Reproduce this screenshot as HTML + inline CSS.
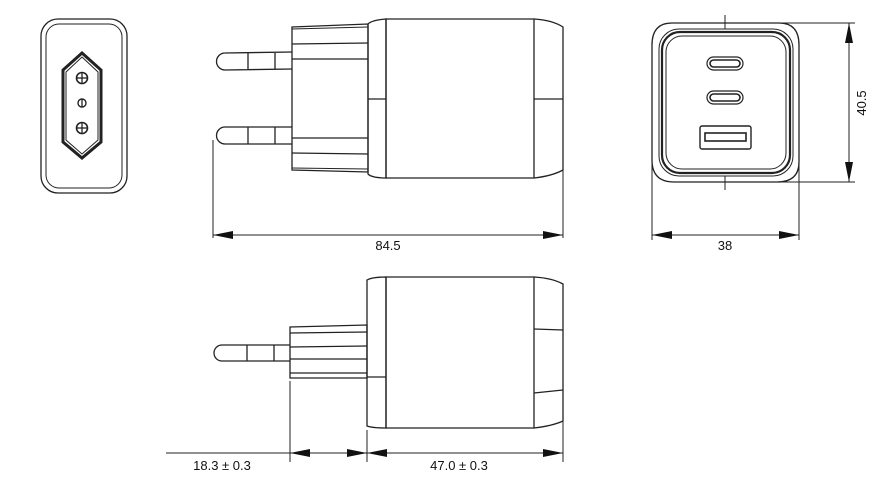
<!DOCTYPE html>
<html><head><meta charset="utf-8"><style>
html,body{margin:0;padding:0;background:#fff;}
svg{display:block;}
text{font-family:"Liberation Sans",Arial,sans-serif;font-size:13px;fill:#111;}
</style></head><body>
<svg width="888" height="495" viewBox="0 0 888 495" xmlns="http://www.w3.org/2000/svg">
<defs>
<marker id="a" viewBox="0 0 20 8" refX="20" refY="4" markerWidth="20" markerHeight="8" markerUnits="userSpaceOnUse" orient="auto-start-reverse"><path d="M0,0 L20,4 L0,8 Z" fill="#111"/></marker>
</defs>
<g fill="none" stroke="#222" stroke-width="1.3">
<!-- left socket view -->
<rect x="41" y="19" width="86" height="174" rx="17"/>
<rect x="46" y="24" width="76" height="164" rx="13" stroke-width="1"/>
<path d="M82,53 L101,70 L101,142 L82,158 L63,142 L63,70 Z" stroke-width="3"/>
<path d="M82,57 L98,72 L98,140 L82,154 L66,140 L66,72 Z" stroke-width="1"/>
<circle cx="82" cy="78" r="5.5" stroke-width="1.6"/><line x1="82" y1="72.5" x2="82" y2="83.5"/><line x1="77" y1="78" x2="87" y2="78"/>
<circle cx="82" cy="103" r="4" stroke-width="1.4"/><line x1="82" y1="99" x2="82" y2="107"/>
<circle cx="82" cy="128" r="5.5" stroke-width="1.6"/><line x1="82" y1="122.5" x2="82" y2="133.5"/><line x1="77" y1="128" x2="87" y2="128"/>

<!-- top side view -->
<path d="M292,27 L368,24 L368,172 L292,170 Z"/>
<line x1="292" y1="29" x2="368" y2="27" stroke-width="1"/>
<line x1="292" y1="44" x2="368" y2="43"/><line x1="292" y1="59" x2="368" y2="59"/>
<line x1="292" y1="138" x2="368" y2="138"/><line x1="292" y1="153" x2="368" y2="154"/>
<line x1="292" y1="168" x2="368" y2="169" stroke-width="1"/>
<path d="M225,53 L292,52 M225,70 L292,69 M225,53 A8.5,8.5 0 0 0 225,70 M248,53 L248,70 M275,52 L275,69"/>
<path d="M225,127 L292,127 M225,144 L292,144 M225,127 A8.5,8.5 0 0 0 225,144 M248,127 L248,144 M275,127 L275,144"/>
<path d="M368,24 Q372,20 386,19 L386,178 Q372,178 368,174 Z"/>
<line x1="368" y1="99" x2="386" y2="99"/>
<path d="M386,19 L534,19 L534,178 L386,178 Z"/>
<path d="M534,19 Q552,20 563,27 L563,170 Q552,176 534,178"/>
<line x1="534" y1="99" x2="563" y2="99"/>
<g stroke-width="1"><line x1="213" y1="140" x2="213" y2="238"/><line x1="563" y1="170" x2="563" y2="238"/></g>
<line x1="213" y1="235" x2="563" y2="235" stroke-width="1" marker-start="url(#a)" marker-end="url(#a)"/>

<!-- front view -->
<path d="M672,23 L779,23 Q799,23 799,45 L799,162 Q799,182 777,182 L674,182 Q652,182 652,160 L652,45 Q652,23 672,23 Z"/>
<rect x="659" y="29" width="134" height="147" rx="20" stroke-width="1"/>
<rect x="662" y="32" width="128" height="141" rx="18" stroke-width="2.2"/>
<rect x="666" y="36" width="120" height="133" rx="16" stroke-width="1"/>
<rect x="707" y="57" width="36" height="13" rx="6.5" stroke-width="1.2"/>
<rect x="710" y="60" width="30" height="7" rx="3.5" stroke-width="1.6"/>
<rect x="707" y="91" width="36" height="13" rx="6.5" stroke-width="1.2"/>
<rect x="710" y="94" width="30" height="7" rx="3.5" stroke-width="1.6"/>
<rect x="700" y="126" width="51" height="23" rx="2" stroke-width="1.4"/>
<rect x="705" y="133" width="41" height="8" stroke-width="1.6"/>
<g stroke-width="1">
<line x1="725" y1="23" x2="855" y2="23"/><line x1="725" y1="182" x2="855" y2="182"/>
<line x1="652" y1="160" x2="652" y2="240"/><line x1="799" y1="160" x2="799" y2="240"/>
<line x1="725" y1="15" x2="725" y2="29"/><line x1="725" y1="176" x2="725" y2="190"/>
</g>
<line x1="849" y1="23" x2="849" y2="182" stroke-width="1" marker-start="url(#a)" marker-end="url(#a)"/>
<line x1="652" y1="235" x2="799" y2="235" stroke-width="1" marker-start="url(#a)" marker-end="url(#a)"/>

<!-- bottom side view -->
<path d="M290,327 L367,325 L367,378 L290,378 Z"/>
<line x1="290" y1="333" x2="367" y2="332"/><line x1="290" y1="347" x2="367" y2="346"/>
<line x1="290" y1="359" x2="367" y2="359"/><line x1="290" y1="373" x2="367" y2="373"/>
<path d="M222,345 L290,345 M222,361 L290,361 M222,345 A8,8 0 0 0 222,361 M247,345 L247,361 M274,345 L274,361"/>
<path d="M367,280 Q372,277 386,277 L386,428 Q372,428 367,426 Z"/>
<line x1="367" y1="377" x2="386" y2="377"/>
<path d="M386,277 L534,277 L534,428 L386,428 Z"/>
<path d="M534,277 Q552,278 563,284 L563,421 Q552,426 534,428"/>
<line x1="534" y1="329" x2="563" y2="330"/><line x1="534" y1="393" x2="563" y2="390"/>
<g stroke-width="1">
<line x1="290" y1="381" x2="290" y2="462"/><line x1="367" y1="430" x2="367" y2="462"/><line x1="563" y1="421" x2="563" y2="462"/>
<line x1="166" y1="453" x2="290" y2="453"/>
</g>
<line x1="290" y1="453" x2="367" y2="453" stroke-width="1" marker-start="url(#a)" marker-end="url(#a)"/>
<line x1="367" y1="453" x2="563" y2="453" stroke-width="1" marker-start="url(#a)" marker-end="url(#a)"/>
</g>
<text x="388" y="250" text-anchor="middle">84.5</text>
<text x="725" y="250" text-anchor="middle">38</text>
<text x="0" y="0" text-anchor="middle" transform="translate(866,103) rotate(-90)">40.5</text>
<text x="222" y="470" text-anchor="middle">18.3 ± 0.3</text>
<text x="459" y="470" text-anchor="middle">47.0 ± 0.3</text>
</svg>
</body></html>
